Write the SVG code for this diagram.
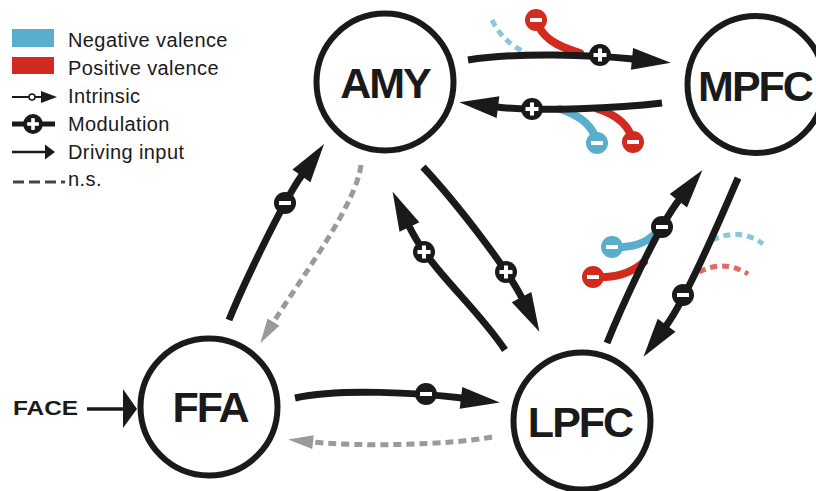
<svg xmlns="http://www.w3.org/2000/svg" xmlns:xlink="http://www.w3.org/1999/xlink" width="816" height="491" viewBox="0 0 816 491">
<style>
.node{fill:#fff;stroke:#1a1a1a;stroke-width:6}
.lbl{font-family:"Liberation Sans",Arial,sans-serif;font-weight:bold;font-size:43px;fill:#1a1a1a;text-anchor:middle;letter-spacing:-2px}
.leg{font-family:"Liberation Sans",Arial,sans-serif;font-size:20px;fill:#1a1a1a;letter-spacing:0.4px}
.blk{fill:none;stroke:#1a1a1a;stroke-width:7;marker-end:url(#ah)}
.gry{fill:none;stroke:#9a9a9a;stroke-width:5;stroke-dasharray:8 5;marker-end:url(#ahg)}
.neg{fill:none;stroke:#5aaecb;stroke-width:8;stroke-linecap:round}
.pos{fill:none;stroke:#d32a20;stroke-width:8;stroke-linecap:round}
.negd{fill:none;stroke:#5aaecb;stroke-width:5;stroke-dasharray:7 5;opacity:0.7}
.posd{fill:none;stroke:#d32a20;stroke-width:5;stroke-dasharray:7 5;opacity:0.7}
</style>
<defs>
<marker id="ah" markerUnits="userSpaceOnUse" orient="auto" refX="0" refY="0" markerWidth="40" markerHeight="24" overflow="visible">
<path d="M-1,-11 L38,0 L-1,11 Z" fill="#1a1a1a"/>
</marker>
<marker id="ahg" markerUnits="userSpaceOnUse" orient="auto" refX="0" refY="0" markerWidth="26" markerHeight="16" overflow="visible">
<path d="M-1,-7 L24,0 L-1,7 Z" fill="#9a9a9a"/>
</marker>
<g id="mplus"><circle r="11" fill="#1a1a1a"/><rect x="-6.5" y="-2" width="13" height="4" fill="#fff"/><rect x="-2" y="-6.5" width="4" height="13" fill="#fff"/></g>
<g id="mminus"><circle r="11" fill="#1a1a1a"/><rect x="-6" y="-2" width="12" height="4" fill="#fff"/></g>
<g id="vneg"><circle r="11" fill="#5aaecb"/><rect x="-6" y="-2" width="12" height="4" fill="#fff"/></g>
<g id="vpos"><circle r="11" fill="#d32a20"/><rect x="-6" y="-2" width="12" height="4" fill="#fff"/></g>
</defs>
<rect width="816" height="491" fill="#fff"/>

<g id="legend">
<rect x="12" y="29" width="42" height="18" fill="#5aaecb"/>
<text class="leg" x="68" y="47">Negative valence</text>
<rect x="12" y="57" width="42" height="17" fill="#d32a20"/>
<text class="leg" x="68" y="75">Positive valence</text>
<line x1="12" y1="97" x2="42" y2="97" stroke="#1a1a1a" stroke-width="2"/>
<circle cx="32" cy="97" r="3" fill="#fff" stroke="#1a1a1a" stroke-width="1.5"/>
<path d="M41,91 L57,97 L41,103 Z" fill="#1a1a1a"/>
<text class="leg" x="68" y="103">Intrinsic</text>
<line x1="12" y1="124" x2="55" y2="124" stroke="#1a1a1a" stroke-width="5"/>
<g transform="translate(33,124) scale(0.9)"><use xlink:href="#mplus" href="#mplus"/></g>
<text class="leg" x="68" y="131">Modulation</text>
<line x1="12" y1="152" x2="47" y2="152" stroke="#1a1a1a" stroke-width="2.5"/>
<path d="M45,144.5 L55,152 L45,159.5 Z" fill="#1a1a1a"/>
<text class="leg" x="68" y="159">Driving input</text>
<line x1="13" y1="182" x2="65" y2="182" stroke="#444" stroke-width="3" stroke-dasharray="11 5"/>
<text class="leg" x="68" y="186">n.s.</text>
</g>

<g id="valence">
<path class="negd" d="M492,20 C499,34 508,44 526,53"/>
<path class="pos" d="M536,20 C542,38 556,46 580,53"/>
<use xlink:href="#vpos" href="#vpos" x="536" y="20"/>
<path class="neg" d="M560,109 C582,116 594,127 597,143"/>
<use xlink:href="#vneg" href="#vneg" x="597" y="143"/>
<path class="pos" d="M598,109 C620,116 630,127 633,142"/>
<use xlink:href="#vpos" href="#vpos" x="633" y="142"/>
<path class="neg" d="M612,247 C632,248 645,244 656,233"/>
<use xlink:href="#vneg" href="#vneg" x="612" y="247"/>
<path class="pos" d="M593,277 C615,278 630,274 644,262"/>
<use xlink:href="#vpos" href="#vpos" x="593" y="277"/>
<path class="negd" d="M712,240 Q740,227 763,244"/>
<path class="posd" d="M699,272 Q724,259 748,274"/>
</g>

<g id="connectors">
<path class="blk" d="M468,60 C518,52 593,55 633,59"/>
<path class="blk" d="M662,103 C620,108 537,112 497,107"/>
<path class="blk" d="M229,320 C241,290 282,203 302,175"/>
<path class="gry" d="M361,165 C356,205 303,275 273,323"/>
<path class="blk" d="M423,167 C453,199 505,265 522,298"/>
<path class="blk" d="M505,350 C475,305 430,270 409,226"/>
<path class="blk" d="M607,343 C619,313 657,228 679,200"/>
<path class="blk" d="M738,178 C726,206 688,296 666,326"/>
<path class="blk" d="M295,398 C340,388 420,393 462,398"/>
<path class="gry" d="M492,437 C450,445 360,447 312,442"/>
<line x1="87" y1="409" x2="125" y2="409" stroke="#1a1a1a" stroke-width="3.5"/>
<path d="M123,389 L137,409 L123,428 Z" fill="#1a1a1a"/>
<use xlink:href="#mplus" href="#mplus" x="600" y="55"/>
<use xlink:href="#mplus" href="#mplus" x="532" y="109"/>
<use xlink:href="#mminus" href="#mminus" x="285" y="203"/>
<use xlink:href="#mplus" href="#mplus" x="506" y="272"/>
<use xlink:href="#mplus" href="#mplus" x="424" y="252"/>
<use xlink:href="#mminus" href="#mminus" x="662" y="227"/>
<use xlink:href="#mminus" href="#mminus" x="683" y="295"/>
<use xlink:href="#mminus" href="#mminus" x="426" y="394"/>
</g>

<g id="AMY"><circle class="node" cx="385" cy="82" r="68.5"/><text class="lbl" x="385" y="98">AMY</text></g>
<g id="MPFC"><circle class="node" cx="756" cy="84.5" r="68.5"/><text class="lbl" x="755" y="101">MPFC</text></g>
<g id="FFA"><circle class="node" cx="209" cy="407" r="68.5"/><text class="lbl" x="210" y="422">FFA</text></g>
<g id="LPFC"><circle class="node" cx="582" cy="421" r="68.5"/><text class="lbl" x="580" y="437">LPFC</text></g>
<g id="FACE"><text x="13" y="415" font-family="'Liberation Sans',Arial,sans-serif" font-weight="bold" font-size="21" fill="#1a1a1a" textLength="65" lengthAdjust="spacingAndGlyphs">FACE</text></g>
</svg>
